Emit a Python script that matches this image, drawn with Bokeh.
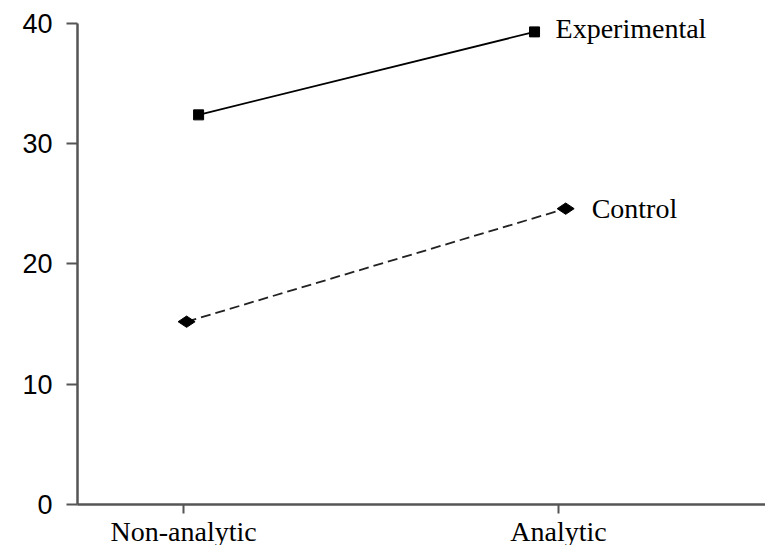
from bokeh.plotting import figure
from bokeh.models import Range1d, FixedTicker, Label
from bokeh.embed import file_html
from bokeh.resources import INLINE

categories = ["Non-analytic", "Analytic"]
y_ticks = [0, 10, 20, 30, 40]

exp_x = [0.04, 0.936]
exp_y = [32.4, 39.3]
ctl_x = [0.008, 1.019]
ctl_y = [15.2, 24.6]
series_names = ["Experimental", "Control"]

p = figure(frame_width=688, frame_height=504, output_backend="svg", toolbar_location=None,
           x_range=Range1d(-0.283, 1.552), y_range=Range1d(0, 41.91),
           min_border_left=77, min_border_top=0, min_border_right=0, min_border_bottom=41)
p.grid.visible = False
p.outline_line_color = None
p.background_fill_color = "white"
p.border_fill_color = "white"

p.line(exp_x, exp_y, line_color="black", line_width=1.8)
p.scatter(exp_x, exp_y, marker="square", size=10, fill_color="black", line_color="black")
p.line(ctl_x, ctl_y, line_color="#222222", line_width=1.8, line_dash="10 5")
p.scatter(ctl_x, ctl_y, marker="diamond", size=17, angle=1.5708, fill_color="black", line_color="black")

p.add_layout(Label(x=exp_x[-1], y=exp_y[-1], text=series_names[0], x_offset=21, y_offset=3,
                   text_font="Liberation Serif", text_font_size="28px", text_baseline="middle",
                   text_color="black"))
p.add_layout(Label(x=ctl_x[-1], y=ctl_y[-1], text=series_names[1], x_offset=26, y_offset=0,
                   text_font="Liberation Serif", text_font_size="28px", text_baseline="middle",
                   text_color="black"))

xa = p.xaxis[0]
xa.ticker = FixedTicker(ticks=[0, 1])
xa.major_label_overrides = {0: categories[0], 1: categories[1]}
xa.major_label_text_font = "Liberation Serif"
xa.major_label_text_font_size = "28px"
xa.major_label_text_color = "black"
xa.major_tick_out = 9
xa.major_tick_in = 0
xa.minor_tick_out = 0
xa.minor_tick_in = 0
xa.major_label_standoff = 2
xa.axis_line_color = "#555555"
xa.axis_line_width = 2.5
xa.major_tick_line_color = "#555555"
xa.major_tick_line_width = 2

ya = p.yaxis[0]
ya.ticker = FixedTicker(ticks=y_ticks)
ya.bounds = (y_ticks[0], y_ticks[-1])
ya.major_label_text_font = "Liberation Sans"
ya.major_label_text_font_size = "27px"
ya.major_label_text_color = "black"
ya.major_tick_out = 11
ya.major_tick_in = 0
ya.minor_tick_out = 0
ya.minor_tick_in = 0
ya.major_label_standoff = 14
ya.axis_line_color = "#555555"
ya.axis_line_width = 2.5
ya.major_tick_line_color = "#555555"
ya.major_tick_line_width = 2

open("out.html", "w").write(file_html(p, INLINE))
